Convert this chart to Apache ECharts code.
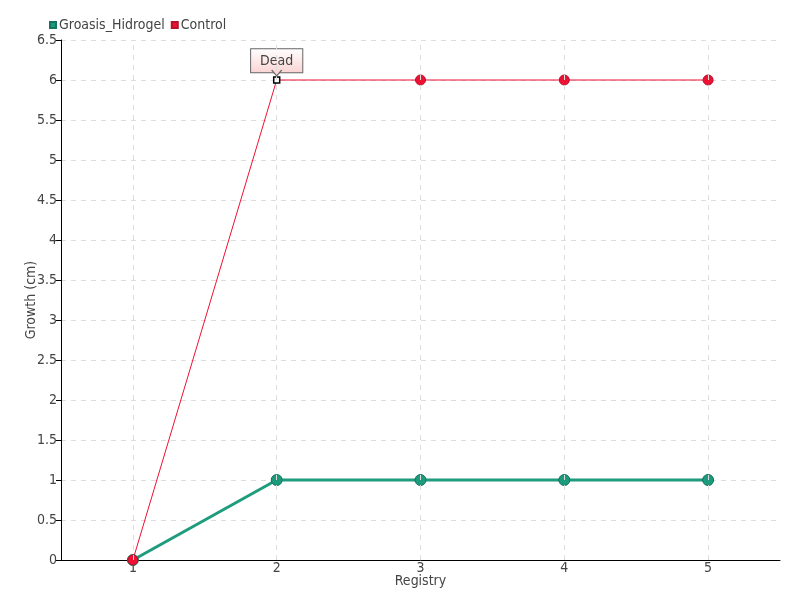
<!DOCTYPE html>
<html><head><meta charset="utf-8">
<script src="https://cdn.jsdelivr.net/npm/echarts@6/dist/echarts.min.js"></script>
<style>html,body{margin:0;padding:0;background:#fff}#c{width:800px;height:600px}</style>
</head><body><div id="c"></div>
<script>
const categories = ['1','2','3','4','5'];
const groasis = [0,1,1,1,1];
const control = [0,6,6,6,6];
const yTicks = [0,0.5,1,1.5,2,2.5,3,3.5,4,4.5,5,5.5,6,6.5];
const deadIndex = 1;
const deadLabel = 'Dead';

const FONT = '"DejaVu Sans Condensed","Liberation Sans Narrow",sans-serif';
const TXT = '#444';
const chart = echarts.init(document.getElementById('c'));
chart.setOption({
  animation:false,
  textStyle:{fontFamily:FONT},
  legend:{
    left:44, top:13, itemWidth:6, itemHeight:6, itemGap:6,
    icon:'rect',
    textStyle:{fontFamily:FONT, fontSize:14, color:TXT, padding:[0,0,0,-2]},
    data:['Groasis_Hidrogel','Control']
  },
  grid:{left:61, right:20, top:40, bottom:40, containLabel:false},
  xAxis:{
    type:'category', data:categories, boundaryGap:true,
    name:'Registry', nameLocation:'middle', nameGap:14, nameMoveOverlap:false,
    nameTextStyle:{fontFamily:FONT, fontSize:14, color:TXT},
    axisLine:{lineStyle:{color:'#000', width:1}},
    axisTick:{alignWithLabel:true, length:5, lineStyle:{color:'#000'}},
    axisLabel:{fontFamily:FONT, fontSize:14, color:TXT, margin:1},
    splitLine:{show:false}
  },
  yAxis:{
    type:'value', min:0, max:6.5, interval:0.5,
    name:'Growth (cm)', nameLocation:'middle', nameGap:23, nameMoveOverlap:false,
    nameTextStyle:{fontFamily:FONT, fontSize:14, color:TXT},
    axisLine:{show:true, lineStyle:{color:'#000', width:1}},
    axisTick:{show:true, length:5, lineStyle:{color:'#000'}},
    axisLabel:{fontFamily:FONT, fontSize:14, color:TXT, margin:4,
      formatter:v=>String(v)},
    splitLine:{lineStyle:{color:'#ddd', type:[5,5]}}
  },
  series:[
    {
      type:'line', name:'_grid', data:[], z:0, silent:true,
      markLine:{
        silent:true, symbol:'none', label:{show:false},
        lineStyle:{color:'#ddd', type:[5,5], width:1},
        data:categories.map((c,i)=>({xAxis:i}))
      }
    },
    {
      name:'Groasis_Hidrogel', type:'line', data:groasis,
      color:'#1b9a7c',
      symbol:'circle', symbolSize:11,
      lineStyle:{width:3, color:'#1f9c7e'},
      itemStyle:{color:'#1b9a7c', borderColor:'#157560', borderWidth:1}
    },
    {
      name:'Control', type:'line',
      color:'#ee1133',
      data:control.map((v,i)=> i===deadIndex ? {
        value:v, symbol:'rect', symbolSize:6,
        itemStyle:{color:'#fff', borderColor:'#000', borderWidth:1.5},
        label:{
          show:true, position:'top', distance:4, formatter:deadLabel,
          fontFamily:FONT, fontSize:14, color:'#444',
          padding:[5,9,4,9], borderColor:'#666', borderWidth:1,
          backgroundColor:{type:'linear',x:0,y:0,x2:0,y2:1,
            colorStops:[{offset:0,color:'#fff'},{offset:1,color:'#fbd3d3'}]}
        }
      } : v),
      symbol:'circle', symbolSize:10,
      lineStyle:{width:1, color:'#ee1133'},
      itemStyle:{color:'#ee1133', borderColor:'#b8102a', borderWidth:1},
      markPoint:{
        silent:true, label:{show:false}, z:10,
        data:[{coord:[deadIndex, control[deadIndex]],
          symbol:'path://M0,0 L5,6 L10,0', symbolSize:[10,6], symbolOffset:[0,-7],
          itemStyle:{color:'#fbd6d6', borderColor:'#666', borderWidth:1}}]
      }
    }
  ]
});
</script></body></html>
